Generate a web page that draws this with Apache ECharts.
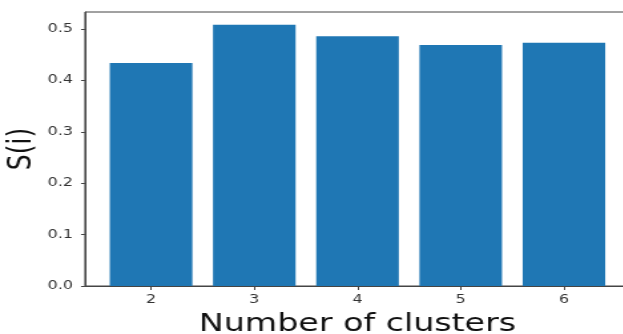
<!DOCTYPE html>
<html>
<head>
<meta charset="utf-8">
<script src="https://cdn.jsdelivr.net/npm/echarts@6/dist/echarts.min.js"></script>
<style>
  html, body { margin: 0; padding: 0; background: #fff; overflow: hidden; }
  #wrap { width: 623px; height: 334px; overflow: hidden; }
  /* the figure is drawn at a narrower native width and stretched horizontally */
  #chart { width: 469px; height: 334px; transform: scaleX(1.33); transform-origin: 0 0; }
</style>
</head>
<body>
<div id="wrap"><div id="chart"></div></div>
<script>
// Silhouette score per number of clusters
const clusters = [2, 3, 4, 5, 6];
const scores = [0.434, 0.508, 0.486, 0.469, 0.473];
const yTicks = [0, 0.1, 0.2, 0.3, 0.4, 0.5];

const STRETCH = 1.33;
const xMin = 1.36, xMax = 6.64;
const gridLeft = 85 / STRETCH;
const gridWidth = (630 - 85) / STRETCH;
const gridTop = 12, gridHeight = 274;
const barPx = 0.8 * gridWidth / (xMax - xMin);

const chart = echarts.init(document.getElementById('chart'), null, { renderer: 'canvas' });
chart.setOption({
  animation: false,
  grid: {
    left: gridLeft, top: gridTop, width: gridWidth, height: gridHeight,
    outerBoundsMode: 'none',
    containLabel: false,
    show: true, borderColor: '#444', borderWidth: 1, backgroundColor: '#fff'
  },
  xAxis: {
    type: 'value',
    min: xMin, max: xMax,
    name: 'Number of clusters',
    nameLocation: 'middle',
    nameGap: 26,
    nameMoveOverlap: false,
    nameTextStyle: { fontFamily: 'DejaVu Sans', fontSize: 25, color: '#111' },
    axisLine: { show: true, lineStyle: { color: '#444', width: 1 } },
    axisTick: { show: true, length: 4, customValues: clusters, lineStyle: { color: '#444' } },
    axisLabel: {
      customValues: clusters,
      fontFamily: 'DejaVu Sans', fontSize: 12, color: '#333', margin: 8,
      formatter: v => String(v)
    },
    splitLine: { show: false }
  },
  yAxis: {
    type: 'value',
    min: 0, max: 0.533,
    name: 'S(i)',
    nameLocation: 'middle',
    nameGap: 35,
    nameMoveOverlap: false,
    nameTextStyle: { fontFamily: 'DejaVu Sans', fontSize: 25, color: '#111' },
    axisLine: { show: true, lineStyle: { color: '#444', width: 1 } },
    axisTick: { show: true, length: 3, customValues: yTicks, lineStyle: { color: '#444' } },
    axisLabel: {
      customValues: yTicks,
      fontFamily: 'DejaVu Sans', fontSize: 12, color: '#333', margin: 9,
      formatter: v => v.toFixed(1)
    },
    splitLine: { show: false }
  },
  series: [{
    type: 'bar',
    data: clusters.map((c, i) => [c, scores[i]]),
    barWidth: barPx,
    itemStyle: { color: '#1f77b4' }
  }]
});
</script>
</body>
</html>
